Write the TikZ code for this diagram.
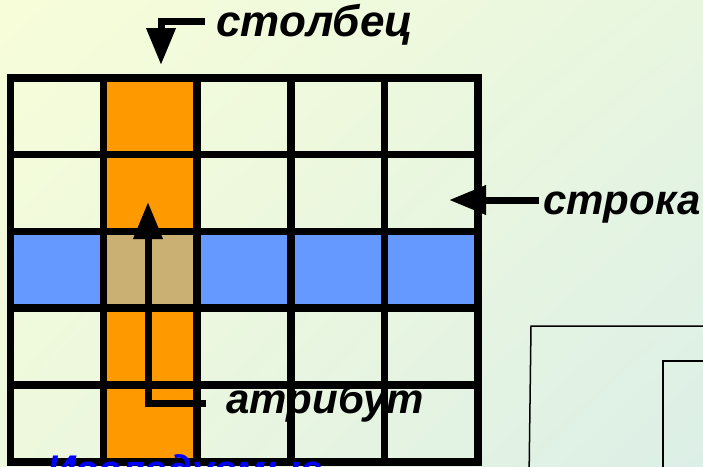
\documentclass[tikz,border=0pt]{standalone}
\usepackage{fontspec}
\setmainfont{Liberation Sans}
\usetikzlibrary{arrows.meta,shadings}
\definecolor{bgTL}{HTML}{F7FDD8}
\definecolor{bgTR}{HTML}{E8F6E0}
\definecolor{bgBL}{HTML}{EDF8DD}
\definecolor{bgBR}{HTML}{DCEFE7}
\definecolor{colOrange}{HTML}{FF9900}
\definecolor{colBlue}{HTML}{6699FF}
\definecolor{colTan}{HTML}{CBB073}
\begin{document}
\begin{tikzpicture}[x=1pt,y=-1pt,
  lbl/.style={font=\fontsize{42}{44}\selectfont\bfseries\itshape, inner sep=0pt, anchor=base west},
  gridline/.style={line width=7.5pt, line cap=rect},
  pointer/.style={line width=7pt, -{Triangle[width=28pt,length=37pt]}},
  frameline/.style={line width=1.5pt}]
\useasboundingbox (0,0) rectangle (703,466);
\clip (0,0) rectangle (703,466);
\shade[upper left=bgTL, upper right=bgTR, lower left=bgBL, lower right=bgBR] (0,0) rectangle (703,466);
% fills
\fill[colBlue] (10.5,231.5) rectangle (478,308);
\fill[colOrange] (103.5,78) rectangle (197,462);
\fill[colTan] (103.5,231.5) rectangle (197,308);
% grid
\foreach \x in {10.5,103.5,197,291,384.5,478}
  \draw[gridline] (\x,78) -- (\x,462);
\foreach \y in {78,154.5,231.5,308,385,462}
  \draw[gridline] (10.5,\y) -- (478,\y);
% labels
\node[lbl, font=\fontsize{44}{46}\selectfont\bfseries\itshape] (col) at (216,36) {столбец};
\node[lbl] (row) at (543,214) {строка};
\node[lbl] (attr) at (226,413) {атрибут};
\node[lbl, text=blue, font=\fontsize{40}{42}\selectfont\bfseries\itshape] (study) at (47,483) {Исследуемые};
% arrows
\coordinate (colTip) at (161,65);
\coordinate (rowTip) at (449,200);
\coordinate (attrTip) at (148,202);
\draw[pointer] ([xshift=-11pt,yshift=14.5pt]col.base west) -- (colTip |- 0,21.5) -- (colTip);
\draw[pointer] ([xshift=-4pt,yshift=14pt]row.base west) -- (rowTip);
\draw[pointer] ([xshift=-20pt,yshift=9.5pt]attr.base west) -- (attrTip |- 0,403.5) -- (attrTip);
% frames
\coordinate (outerCorner) at (531,326);
\coordinate (innerCorner) at (663,361);
\draw[frameline] (720,326) -- (outerCorner) -- (529,480);
\draw[frameline] (720,361) -- (innerCorner) -- (663,480);
\end{tikzpicture}
\end{document}
